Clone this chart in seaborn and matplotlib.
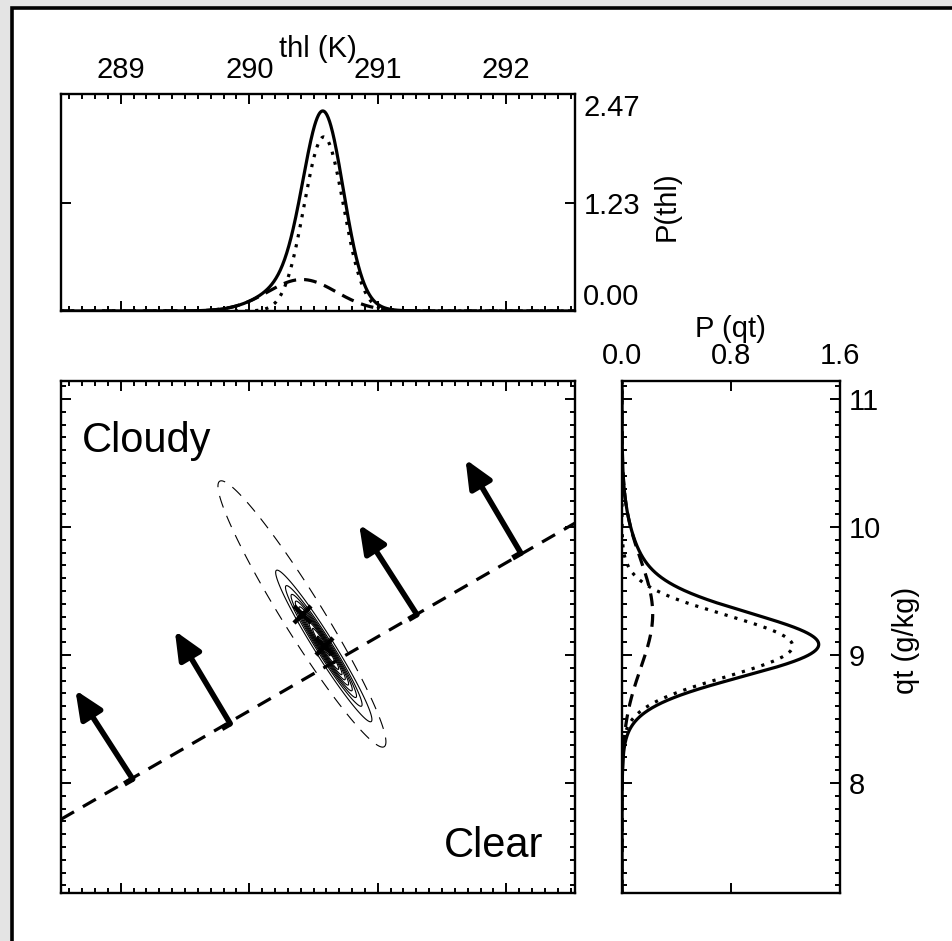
import numpy as np
import pandas as pd
import matplotlib
matplotlib.use("Agg")
import matplotlib.pyplot as plt
import seaborn as sns
from matplotlib.patches import Rectangle
from matplotlib.ticker import MultipleLocator, FixedLocator, NullLocator

# ---------------- data ----------------
# double-Gaussian PDF: component weights, means, widths, correlations
comp_weight = [0.76, 0.24]
thl_mean = [290.58, 290.41]
thl_sigma = [0.153, 0.267]
qt_mean = [9.07, 9.32]
qt_sigma = [0.242, 0.425]
corr = [-0.97, -0.96]

thl_range = [288.535, 292.535]
qt_range = [7.14, 11.14]
pthl_range = [0.0, 2.47]
pqt_range = [0.0, 1.6]

thl_ticks = [289, 290, 291, 292]
thl_labels = ["289", "290", "291", "292"]
pthl_ticks = [0.0, 1.23, 2.47]
pthl_labels = ["0.00", "1.23", "2.47"]
pqt_ticks = [0.0, 0.8, 1.6]
pqt_labels = ["0.0", "0.8", "1.6"]
qt_ticks = [8, 9, 10, 11]
qt_labels = ["8", "9", "10", "11"]

# saturation line (dashed) end points
sat_thl = [288.535, 292.535]
sat_qt = [7.716, 10.03]

# arrows (base on the saturation line, tip up-left)
arrow_base_thl = [289.093, 289.852, 291.305, 292.114]
arrow_base_qt = [8.030, 8.463, 9.315, 9.795]
arrow_tip_thl = [288.647, 289.421, 290.855, 291.683]
arrow_tip_qt = [8.725, 9.188, 10.019, 10.528]

# contour levels (fractions of each component's peak density)
solid_level_frac = [0.05, 0.15, 0.25, 0.35, 0.45, 0.55, 0.65, 0.75, 0.85, 0.95]
dashed_level_frac = [0.05]

# ---------------- helpers ----------------
def gauss(x, m, s):
    return np.exp(-0.5 * ((x - m) / s) ** 2) / (s * np.sqrt(2 * np.pi))

def bvn(X, Y, mx, my, sx, sy, r):
    zx = (X - mx) / sx
    zy = (Y - my) / sy
    q = (zx ** 2 - 2 * r * zx * zy + zy ** 2) / (1 - r ** 2)
    return np.exp(-q / 2) / (2 * np.pi * sx * sy * np.sqrt(1 - r ** 2))

sns.set_style("white")
FONT = ["Liberation Sans", "DejaVu Sans"]
plt.rcParams["font.family"] = FONT
plt.rcParams["text.color"] = "black"
plt.rcParams["axes.labelcolor"] = "black"
plt.rcParams["xtick.color"] = "black"
plt.rcParams["ytick.color"] = "black"
plt.rcParams["axes.linewidth"] = 1.6

W, H = 953, 941
fig = plt.figure(figsize=(W / 100, H / 100), dpi=100)
fig.patch.set_facecolor("#e4e4e4")
fig.add_artist(Rectangle((12 / W, -0.05), 1.2, 1 - 8 / H + 0.05, transform=fig.transFigure,
                         facecolor="white", edgecolor="black", lw=2.6, zorder=-10, clip_on=False))

def px_axes(x0, y0, x1, y1):
    return fig.add_axes([x0 / W, 1 - y1 / H, (x1 - x0) / W, (y1 - y0) / H])

ax_top = px_axes(61, 94, 575, 311)
ax_main = px_axes(61, 381, 575, 893)
ax_right = px_axes(622, 381, 840, 893)
for ax in (ax_top, ax_main, ax_right):
    ax.set_facecolor("white")
    for s in ax.spines.values():
        s.set_linewidth(1.7)
        s.set_color("black")

LW = 2.3
TICKFS = 21
dash_map = {"total": "", "comp1": (1, 2.2), "comp2": (4, 2.5)}

# ---------------- top marginal: P(thl) ----------------
thl_grid = np.linspace(thl_range[0], thl_range[1], 1201)
c1 = comp_weight[0] * gauss(thl_grid, thl_mean[0], thl_sigma[0])
c2 = comp_weight[1] * gauss(thl_grid, thl_mean[1], thl_sigma[1])
df_thl = pd.concat([
    pd.DataFrame({"thl": thl_grid, "P": c1 + c2, "comp": "total"}),
    pd.DataFrame({"thl": thl_grid, "P": c1, "comp": "comp1"}),
    pd.DataFrame({"thl": thl_grid, "P": c2, "comp": "comp2"}),
])
sns.lineplot(data=df_thl, x="thl", y="P", style="comp", dashes=dash_map, color="black",
             lw=LW, legend=False, errorbar=None, ax=ax_top)
ax_top.set_xlim(thl_range)
ax_top.set_ylim(pthl_range)
ax_top.set_xlabel("")
ax_top.set_ylabel("")
ax_top.xaxis.set_major_locator(FixedLocator(thl_ticks))
ax_top.xaxis.set_minor_locator(MultipleLocator(0.1))
ax_top.set_xticklabels(thl_labels)
ax_top.yaxis.set_major_locator(FixedLocator(pthl_ticks))
ax_top.yaxis.set_minor_locator(NullLocator())
ax_top.set_yticklabels(pthl_labels)
ax_top.tick_params(which="both", direction="in", top=True, bottom=True, left=True, right=True,
                   labeltop=True, labelbottom=False, labelleft=False, labelright=True,
                   width=1.4, labelsize=TICKFS)
ax_top.tick_params(axis="x", which="major", length=7, pad=7)
ax_top.tick_params(axis="y", which="major", length=7, pad=6)
ax_top.tick_params(which="minor", length=3.5)
ylabs = ax_top.get_yticklabels()
ylabs[0].set_va("bottom")
ylabs[2].set_va("top")

# ---------------- right marginal: P(qt) ----------------
qt_grid = np.linspace(qt_range[0], qt_range[1], 1201)
q1 = comp_weight[0] * gauss(qt_grid, qt_mean[0], qt_sigma[0])
q2 = comp_weight[1] * gauss(qt_grid, qt_mean[1], qt_sigma[1])
df_qt = pd.concat([
    pd.DataFrame({"qt": qt_grid, "P": q1 + q2, "comp": "total"}),
    pd.DataFrame({"qt": qt_grid, "P": q1, "comp": "comp1"}),
    pd.DataFrame({"qt": qt_grid, "P": q2, "comp": "comp2"}),
])
sns.lineplot(data=df_qt, x="P", y="qt", style="comp", dashes=dash_map, color="black",
             lw=LW, legend=False, errorbar=None, orient="y", ax=ax_right)
ax_right.set_xlim(pqt_range)
ax_right.set_ylim(qt_range)
ax_right.set_xlabel("")
ax_right.set_ylabel("")
ax_right.xaxis.set_major_locator(FixedLocator(pqt_ticks))
ax_right.xaxis.set_minor_locator(NullLocator())
ax_right.set_xticklabels(pqt_labels)
ax_right.yaxis.set_major_locator(FixedLocator(qt_ticks))
ax_right.yaxis.set_minor_locator(MultipleLocator(0.1))
ax_right.set_yticklabels(qt_labels)
ax_right.tick_params(which="both", direction="in", top=True, bottom=True, left=True, right=True,
                     labeltop=True, labelbottom=False, labelleft=False, labelright=True,
                     width=1.4, labelsize=TICKFS)
ax_right.tick_params(axis="x", which="major", length=7, pad=8)
ax_right.tick_params(axis="y", which="major", length=7, pad=6)
ax_right.tick_params(which="minor", length=3.5)

# ---------------- main joint panel ----------------
TH, QT = np.meshgrid(np.linspace(thl_range[0], thl_range[1], 1400),
                     np.linspace(qt_range[0], qt_range[1], 1400))
g1 = comp_weight[0] * bvn(TH, QT, thl_mean[0], qt_mean[0], thl_sigma[0], qt_sigma[0], corr[0])
g2 = comp_weight[1] * bvn(TH, QT, thl_mean[1], qt_mean[1], thl_sigma[1], qt_sigma[1], corr[1])
ax_main.contour(TH, QT, g1, levels=np.array(solid_level_frac) * g1.max(),
                colors="black", linewidths=0.8, linestyles="solid")
ax_main.contour(TH, QT, g2, levels=np.array(dashed_level_frac) * g2.max(),
                colors="black", linewidths=0.8, linestyles=[(0, (11, 8))])

sns.lineplot(x=sat_thl, y=sat_qt, color="black", lw=LW, ax=ax_main)
ax_main.lines[-1].set_dashes((4.7, 3.2))

slope = (sat_qt[1] - sat_qt[0]) / (sat_thl[1] - sat_thl[0])
foot = 0.075 / np.sqrt(1 + slope ** 2)
for bx, by, tx, ty in zip(arrow_base_thl, arrow_base_qt, arrow_tip_thl, arrow_tip_qt):
    ax_main.plot([bx - foot, bx], [by - foot * slope, by], color="black", lw=4.0,
                 solid_capstyle="butt")
    ax_main.annotate("", xy=(tx, ty), xytext=(bx, by),
                     arrowprops=dict(arrowstyle="-|>,head_length=1.7,head_width=0.75",
                                     color="black", lw=4.0, shrinkA=0, shrinkB=0,
                                     mutation_scale=10))

sns.scatterplot(x=thl_mean, y=qt_mean, marker="x", s=150, linewidth=3.2, color="black",
                ax=ax_main, zorder=5)

ax_main.set_xlim(thl_range)
ax_main.set_ylim(qt_range)
ax_main.set_xlabel("")
ax_main.set_ylabel("")
ax_main.xaxis.set_major_locator(FixedLocator(thl_ticks))
ax_main.xaxis.set_minor_locator(MultipleLocator(0.1))
ax_main.yaxis.set_major_locator(FixedLocator(qt_ticks))
ax_main.yaxis.set_minor_locator(MultipleLocator(0.1))
ax_main.tick_params(which="both", direction="in", top=True, bottom=True, left=True, right=True,
                    labeltop=False, labelbottom=False, labelleft=False, labelright=False,
                    width=1.4)
ax_main.tick_params(which="major", length=7)
ax_main.tick_params(which="minor", length=3.5)

ax_main.text((82 - 61) / 514, 1 - (451.5 - 381) / 512, "Cloudy", transform=ax_main.transAxes,
             ha="left", va="baseline", fontsize=30)
ax_main.text((543 - 61) / 514, 1 - (856.6 - 381) / 512, "Clear", transform=ax_main.transAxes,
             ha="right", va="baseline", fontsize=30)

# ---------------- axis titles ----------------
fig.text(318 / W, 1 - 49 / H, "thl (K)", ha="center", va="center", fontsize=21)
fig.text(667 / W, 1 - 206 / H, "P(thl)", ha="center", va="center", rotation=90, fontsize=21)
fig.text(730 / W, 1 - 329 / H, "P (qt)", ha="center", va="center", fontsize=21)
fig.text(906 / W, 1 - 640 / H, "qt (g/kg)", ha="center", va="center", rotation=90, fontsize=21)

fig.savefig("out.png", dpi=100, facecolor=fig.get_facecolor())
